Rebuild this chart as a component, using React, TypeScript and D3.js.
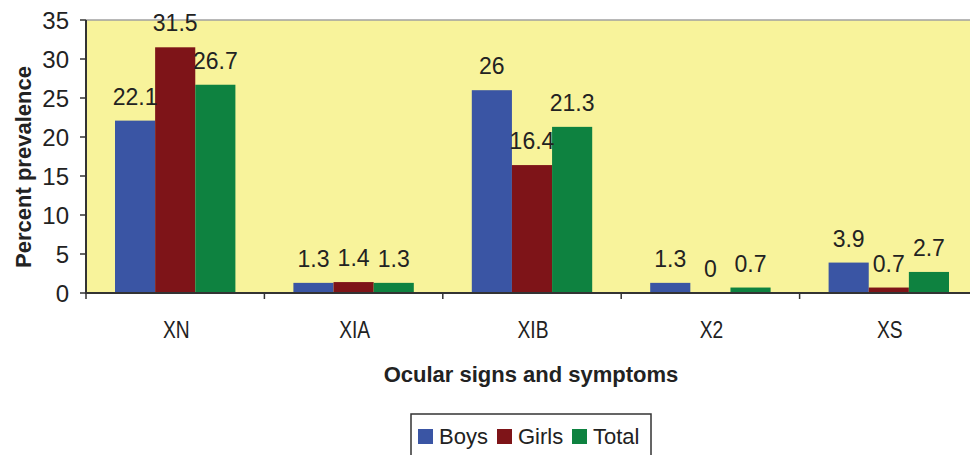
import React from "react";
import * as d3 from "d3";

const categories = ["XN", "XIA", "XIB", "X2", "XS"];
const seriesNames = ["Boys", "Girls", "Total"];
const boys = [22.1, 1.3, 26, 1.3, 3.9];
const girls = [31.5, 1.4, 16.4, 0, 0.7];
const total = [26.7, 1.3, 21.3, 0.7, 2.7];
const yTicks = [0, 5, 10, 15, 20, 25, 30, 35];

const colors = ["#3A55A4", "#7E1418", "#0E8240"];
const W = 970;
const H = 455;
const M = { left: 86, top: 20, right: 978, bottom: 293 };
const FONT = "Arial, 'Liberation Sans', Helvetica, sans-serif";

export default function App() {
  const series = [boys, girls, total];
  const x = d3.scaleBand<string>().domain(categories).range([M.left, M.right]).paddingInner(0).paddingOuter(0);
  const groupPad = 29;
  const inner = d3
    .scaleBand<string>()
    .domain(seriesNames)
    .range([groupPad, x.bandwidth() - groupPad]);
  const y = d3.scaleLinear().domain([0, 35]).range([M.bottom, M.top]);

  const boundaries = d3.range(categories.length + 1).map((i) => M.left + i * x.bandwidth());

  return (
    <svg
      width={W}
      height={H}
      style={{ position: "absolute", left: 0, top: 0, background: "#fff" }}
      fontFamily={FONT}
    >
      {/* plot area */}
      <rect x={M.left} y={M.top} width={M.right - M.left} height={M.bottom - M.top} fill="#F8F39B" />
      <line x1={M.left} x2={W} y1={M.top} y2={M.top} stroke="#A0A0A0" strokeWidth={1.5} />

      {/* bars */}
      {series.map((vals, si) =>
        categories.map((c, ci) => {
          const bx = (x(c) as number) + (inner(seriesNames[si]) as number);
          const by = y(vals[ci]);
          return (
            <rect
              key={`${si}-${ci}`}
              x={bx}
              y={by}
              width={inner.bandwidth()}
              height={M.bottom - by}
              fill={colors[si]}
            />
          );
        })
      )}

      {/* value labels */}
      {series.map((vals, si) =>
        categories.map((c, ci) => {
          const cx = (x(c) as number) + (inner(seriesNames[si]) as number) + inner.bandwidth() / 2;
          return (
            <text
              key={`l-${si}-${ci}`}
              x={cx}
              y={y(vals[ci]) - 16}
              textAnchor="middle"
              fontSize={23}
              fill="#222"
            >
              {String(vals[ci])}
            </text>
          );
        })
      )}

      {/* y axis */}
      <line x1={M.left} x2={M.left} y1={M.top} y2={M.bottom} stroke="#333" strokeWidth={2} />
      {yTicks.map((t) => (
        <g key={t}>
          <line x1={M.left - 6} x2={M.left} y1={y(t)} y2={y(t)} stroke="#333" strokeWidth={1.5} />
          <text x={69} y={y(t) + 8.5} textAnchor="end" fontSize={24} fill="#222">
            {t}
          </text>
        </g>
      ))}

      {/* x axis */}
      <line x1={M.left - 1} x2={W} y1={M.bottom} y2={M.bottom} stroke="#333" strokeWidth={2} />
      {boundaries.map((bx, i) => (
        <line key={i} x1={bx} x2={bx} y1={M.bottom} y2={M.bottom + 6} stroke="#333" strokeWidth={1.5} />
      ))}
      {categories.map((c) => {
        const cx = (x(c) as number) + x.bandwidth() / 2;
        return (
          <text
            key={c}
            transform={`translate(${cx + 1},338) scale(0.8,1)`}
            textAnchor="middle"
            fontSize={24}
            fill="#222"
          >
            {c}
          </text>
        );
      })}

      {/* axis titles */}
      <text x={531} y={382} textAnchor="middle" fontSize={22} fontWeight="bold" fill="#222">
        Ocular signs and symptoms
      </text>
      <text
        transform={`translate(31,167) rotate(-90)`}
        textAnchor="middle"
        fontSize={22}
        fontWeight="bold"
        fill="#222"
      >
        Percent prevalence
      </text>

      {/* legend */}
      <rect x={411} y={414} width={240} height={50} fill="#fff" stroke="#333" strokeWidth={1.5} />
      {seriesNames.map((s, i) => {
        const lx = [418, 497, 572][i];
        return (
          <g key={s}>
            <rect x={lx} y={429} width={15} height={15} fill={colors[i]} />
            <text x={lx + 21} y={444} fontSize={22} fill="#222">
              {s}
            </text>
          </g>
        );
      })}
    </svg>
  );
}
